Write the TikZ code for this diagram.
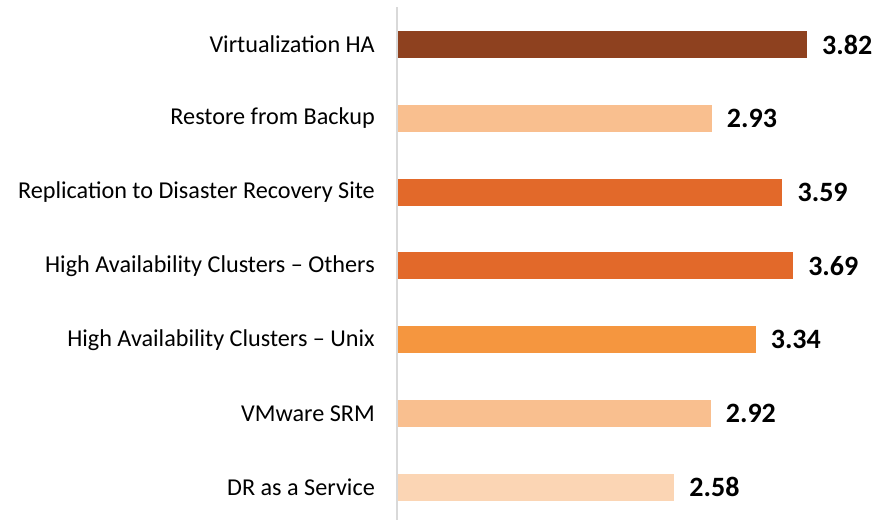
\documentclass[tikz,border=0pt]{standalone}
\usepackage{fontspec}
\setmainfont{Carlito}
\usepackage{tikz}
\usetikzlibrary{positioning}

\definecolor{rustdark}{HTML}{8E411F}
\definecolor{rustmid}{HTML}{E2692A}
\definecolor{orangemain}{HTML}{F5963F}
\definecolor{peach}{HTML}{F9BF8F}
\definecolor{peachpale}{HTML}{FBD5B4}
\definecolor{axisgray}{HTML}{D9D9D9}

\begin{document}
\begin{tikzpicture}[x=1pt, y=-1pt,
  bar/.style = {anchor=west, inner sep=0pt, outer sep=0pt, minimum height=27pt},
  cat/.style = {anchor=east, inner sep=0pt, font=\fontsize{24.2}{28}\selectfont},
  val/.style = {inner sep=0pt, font=\bfseries\fontsize{28}{32}\selectfont}]
\useasboundingbox (0,0) rectangle (878,520);
\draw[axisgray, line width=2pt] (397,7) -- (397,520);
\foreach \i/\v/\c/\t in {0/3.82/rustdark/Virtualization HA,
                         1/2.93/peach/Restore from Backup,
                         2/3.59/rustmid/Replication to Disaster Recovery Site,
                         3/3.69/rustmid/High Availability Clusters – Others,
                         4/3.34/orangemain/High Availability Clusters – Unix,
                         5/2.92/peach/VMware SRM,
                         6/2.58/peachpale/DR as a Service} {
  \node[bar, fill=\c, minimum width=\v*107.07pt] (bar\i) at (398,44.5+\i*73.8) {};
  \node[cat] (cat\i) at (375,44.5+\i*73.8) {\t};
  \node[val, right=15pt of bar\i] (val\i) {\v};
}
\end{tikzpicture}
\end{document}
